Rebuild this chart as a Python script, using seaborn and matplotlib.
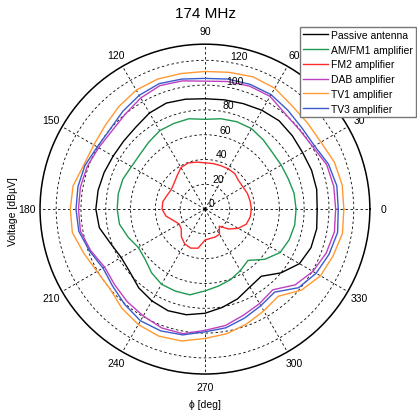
import numpy as np
import pandas as pd
import matplotlib
matplotlib.use("Agg")
import matplotlib.pyplot as plt
import seaborn as sb

# angles in degrees, one value per 10 deg
phi_deg = np.arange(0, 360, 10)

passive = [90.5, 91.5, 91.5, 91, 92, 93, 92, 90.5, 89.5, 89,
           90, 91, 89.5, 86.5, 85.5, 85.5, 86.5, 87.5, 88, 86.5,
           81, 78, 79, 83, 85.5, 87.2, 86.5, 84, 80.5, 77,
           72.5, 70.7, 80, 88, 91, 91.5]
amfm1 = [73.5, 73, 71.5, 71, 71, 73, 75, 75, 74, 72.4,
         74, 73.5, 73, 70.5, 68.5, 68.5, 70.5, 71, 70.8, 70,
         66, 62, 63, 67, 70, 70.3, 70.2, 66, 63, 60.5,
         57.2, 54, 63, 70, 72.3, 73.5]
fm2 = [37.5, 37, 36.5, 35.5, 35.5, 37.4, 37.5, 37.3, 37.3, 37.3,
       38.5, 39.6, 38.7, 35, 32.5, 31.4, 32.5, 34.5, 34.6, 32,
       27, 24, 25, 29.5, 32.5, 33.5, 32, 25, 24, 24,
       23.4, 18, 25, 31, 35.5, 37]
dab = [105.4, 105.5, 104.5, 100.5, 99.5, 100.5, 105, 105.5, 104.5, 103.2,
       105, 106, 103.5, 100, 98, 99, 101, 102, 102, 102,
       98, 93.5, 95, 97.5, 99.5, 102, 102, 97.8, 95.3, 91,
       88, 85, 95, 100.5, 104, 106]
tv1 = [112, 112.4, 111, 108, 108, 109, 112.6, 113.5, 112, 111,
       111, 111.6, 110.8, 108, 105, 103.5, 104, 108, 108.6, 108.6,
       104, 100.5, 100, 104.3, 107.5, 109, 108, 104.3, 102, 98.5,
       94.8, 91.8, 101.6, 107.6, 110, 112.6]
tv3 = [107.5, 108, 106, 102, 102, 104, 106.6, 107, 106.5, 105.4,
       106.5, 107.7, 106, 103, 100, 100.3, 103, 104, 104, 103.3,
       99, 95, 97, 100.5, 104, 104.5, 103, 99, 97.2, 93.5,
       90, 87.4, 98.6, 103.5, 106.5, 108.6]

series = {
    'Passive antenna': passive,
    'AM/FM1 amplifier': amfm1,
    'FM2 amplifier': fm2,
    'DAB amplifier': dab,
    'TV1 amplifier': tv1,
    'TV3 amplifier': tv3,
}
colors = ['black', '#1f9950', '#ff2a2a', '#bf40bf', '#ff9933', '#3b5bcc']

r_ticks = [0, 20, 40, 60, 80, 100, 120]
r_max = 133
theta_ticks = list(range(0, 360, 30))

plt.rcParams['font.family'] = ['Liberation Sans', 'DejaVu Sans']

fig = plt.figure(figsize=(4.17, 4.14), dpi=100)
ax = fig.add_axes([0.096, 0.094, 0.791, 0.797], projection='polar')

for (name, vals), col in zip(series.items(), colors):
    th = np.deg2rad(np.append(phi_deg, 360))
    rr = np.append(vals, vals[0])
    df = pd.DataFrame({'theta': th, 'r': rr})
    sb.lineplot(data=df, x='theta', y='r', sort=False, color=col,
                linewidth=1.0, label=name, ax=ax)

ax.set_ylim(0, r_max)
ax.set_yticks(r_ticks)
ax.set_yticklabels([])
ax.set_thetagrids(theta_ticks, [str(t) for t in theta_ticks], fontsize=7.5)
ax.tick_params(axis='x', pad=-1)
ax.grid(True, linestyle='--', color='black', linewidth=0.6, dashes=(3, 3))
ax.spines['polar'].set_color('black')
ax.spines['polar'].set_linewidth(1.1)
ax.set_xlabel('')
ax.set_ylabel('')

# radial labels like matlab, just right of the 82 deg ray
for rt in r_ticks:
    ax.annotate(str(rt), xy=(np.deg2rad(82), rt), xytext=(3, 0.5),
                textcoords='offset points', ha='left', va='bottom', fontsize=7.5)

ax.legend(loc='upper left', bbox_to_anchor=(300 / 417, 1 - 28 / 414),
          bbox_transform=fig.transFigure, borderaxespad=0, fontsize=7.5,
          frameon=True, fancybox=False, framealpha=1, edgecolor='#777777',
          handlelength=2.4, handletextpad=0.25, labelspacing=0.45,
          borderpad=0.3)

fig.text(0.492, 0.966, '174 MHz', ha='center', va='center', fontsize=11)
fig.text(0.03, 0.49, 'Voltage [dB\u00b5V]', rotation=90, ha='center',
         va='center', fontsize=7.5)
fig.text(0.492, 0.022, '\u03d5 [deg]', ha='center', va='center', fontsize=7.5)

fig.savefig('out.png', dpi=100)
